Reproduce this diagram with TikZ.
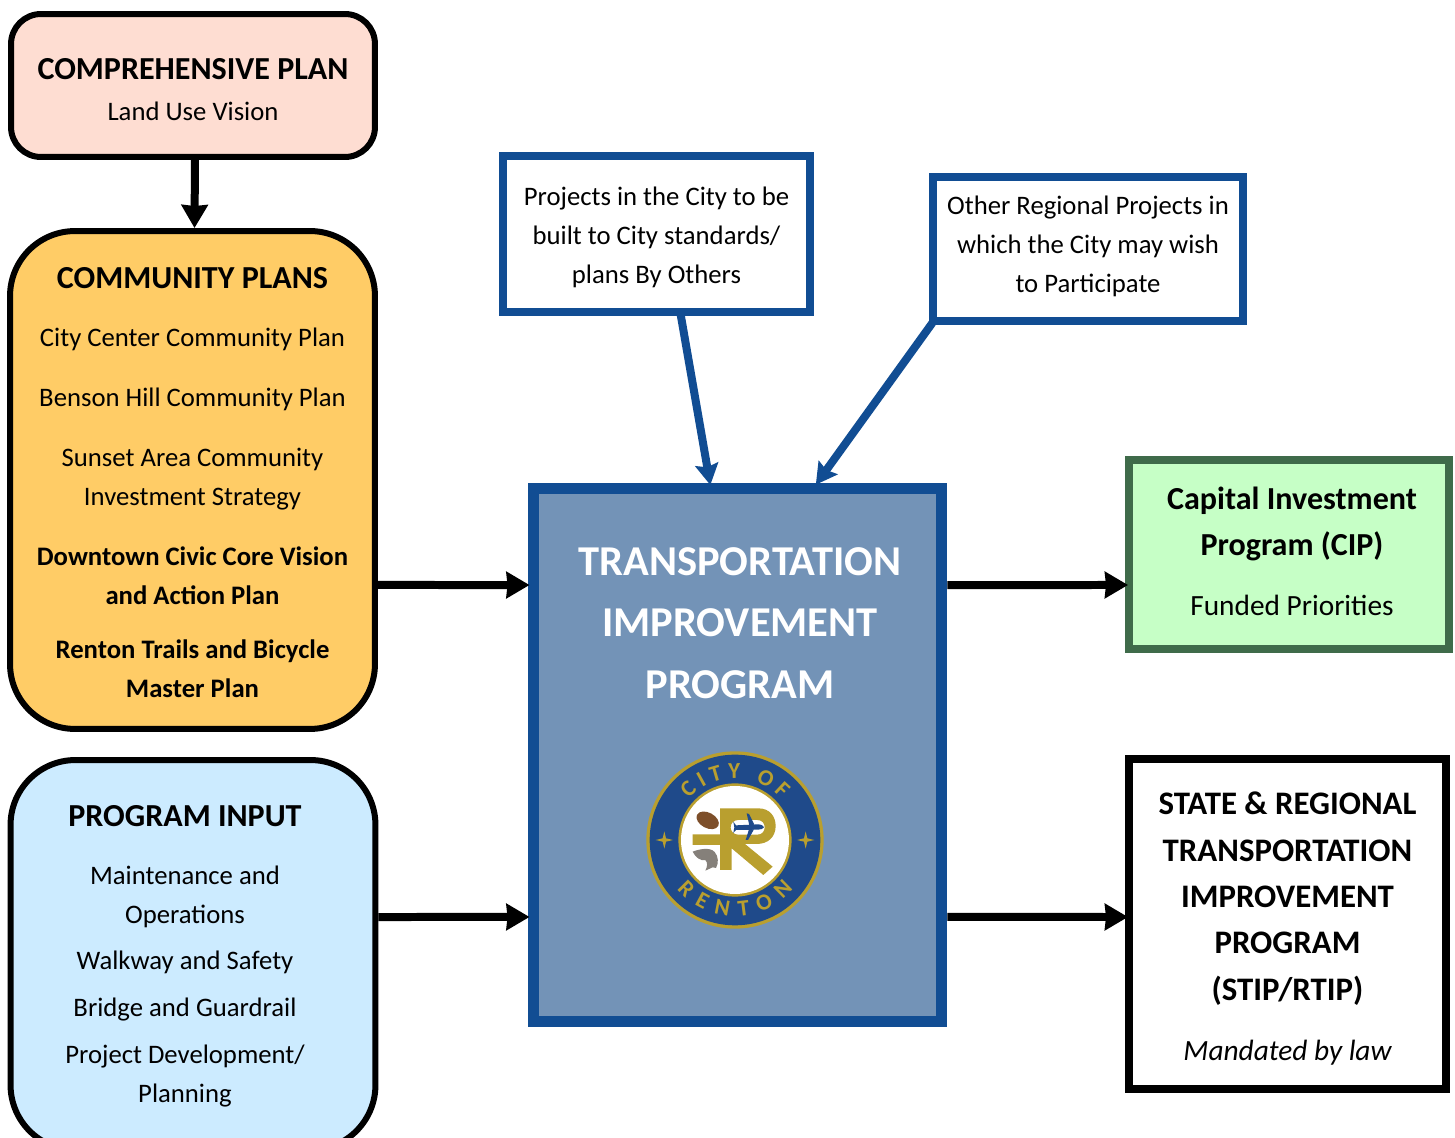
\documentclass[tikz,border=0pt]{standalone}
\usepackage{fontspec}
\setmainfont{Carlito}
\usepackage{tikz}
\usetikzlibrary{arrows.meta}
\usetikzlibrary{decorations.text}
\definecolor{planblue}{HTML}{114D93}
\definecolor{planfill}{HTML}{7393B7}
\definecolor{compfill}{HTML}{FEDDD2}
\definecolor{commfill}{HTML}{FFCC66}
\definecolor{inputfill}{HTML}{CCEBFF}
\definecolor{cipfill}{HTML}{C6FFC6}
\definecolor{cipgreen}{HTML}{3F6B4A}
\definecolor{logoblue}{HTML}{1F4A8A}
\definecolor{logogold}{HTML}{B99F2F}
\definecolor{ballbrown}{HTML}{7D4F2A}
\definecolor{fishgray}{HTML}{85807A}
\newcommand{\bodyfont}{\fontsize{15.2}{22.1}\selectfont}
\newcommand{\subfont}{\fontsize{16.7}{22.1}\selectfont}
\newcommand{\headfont}{\fontsize{18.25}{22.1}\selectfont\bfseries}
\newcommand{\statefont}{\fontsize{18.7}{22.1}\selectfont\bfseries}
\newcommand{\bighead}{\fontsize{24.2}{35}\selectfont\bfseries}
\newcommand{\logofont}{\fontsize{13}{13}\selectfont\bfseries}

\begin{document}
\begin{tikzpicture}[
        x=0.02cm,y=-0.02cm,
        roundbox/.style={draw=black,line width=0.12cm,rounded corners=#1},
        roundbox/.default=1.3cm,
        squarebox/.style={line width=0.16cm},
        words/.style={align=center,font=\bodyfont,inner sep=0pt},
        arrowblack/.style={-{Stealth[length=0.46cm,width=0.52cm,inset=0.02cm]},line width=0.16cm},
        arrowblue/.style={-{Stealth[length=0.42cm,width=0.46cm,inset=0.06cm]},line width=0.16cm,draw=planblue},
        logogrid/.style={shift={(630,740)},x=0.00667cm,y=-0.00667cm},
    ]
    \path[use as bounding box,clip] (0,0) rectangle (1455,1138);
    % left column
    \node[roundbox=0.6cm,fill=compfill,minimum width=7.28cm,minimum height=2.86cm,words] (comp) at (193,85.5)
        {\rule{0pt}{16.4pt}{\headfont COMPREHENSIVE PLAN}\\[1.2pt]Land Use Vision};
    \node[roundbox,fill=commfill,minimum width=7.3cm,minimum height=9.96cm,words] (comm) at (192.5,480)
        {\rule{0pt}{15pt}{\headfont COMMUNITY PLANS}\\[11pt]City Center Community Plan\\[12pt]Benson Hill Community Plan\\[12pt]Sunset Area Community\\Investment Strategy\\[12pt]\textbf{Downtown Civic Core Vision}\\\textbf{and Action Plan}\\[9pt]\textbf{Renton Trails and Bicycle}\\\textbf{Master Plan}};
    \node[roundbox,fill=inputfill,minimum width=7.3cm,minimum height=7.8cm] (input) at (193,955) {};
    \node[words] (inputtext) at (185,956)
        {{\headfont PROGRAM INPUT}\\[11pt]Maintenance and\\Operations\\[4.5pt]Walkway and Safety\\[4.5pt]Bridge and Guardrail\\[4.5pt]Project Development/\\Planning};
    % middle
    \node[squarebox,draw=planblue,fill=white,minimum width=6.16cm,minimum height=3.14cm,words] (proj) at (656.5,234)
        {\rule{0pt}{14.5pt}Projects in the City to be\\built to City standards/\\plans By Others};
    \node[squarebox,draw=planblue,fill=white,minimum width=6.22cm,minimum height=2.9cm,words] (other) at (1088,249)
        {Other Regional Projects in\\which the City may wish\\to Participate\rule[-5.7pt]{0pt}{0pt}};
    \node[draw=planblue,line width=0.22cm,fill=planfill,minimum width=8.18cm,minimum height=10.66cm] (plan) at (737.5,755) {};
    \node[align=center,font=\bighead,text=white,inner sep=0pt] (plantext) at (740,623)
        {TRANSPORTATION\\IMPROVEMENT\\PROGRAM};
    % right column
    \node[draw=cipgreen,line width=0.16cm,fill=cipfill,minimum width=6.4cm,minimum height=3.78cm] (cip) at (1289,554.5) {};
    \node[words] (ciptext) at (1292,551)
        {{\headfont Capital Investment}\\[4pt]{\headfont Program (CIP)}\\[12pt]{\subfont Funded Priorities}};
    \node[draw=black,line width=0.16cm,fill=white,minimum width=6.34cm,minimum height=6.6cm,words] (state) at (1287.5,924)
        {\rule{0pt}{18.1pt}{\statefont STATE \& REGIONAL}\\[4.3pt]{\statefont TRANSPORTATION}\\[4.3pt]{\statefont IMPROVEMENT}\\[4.3pt]{\statefont PROGRAM}\\[4.3pt]{\statefont (STIP/RTIP)}\\[12pt]{\subfont\itshape Mandated by law}};
    % arrows
    \draw[arrowblack] ([xshift=0.04cm]comp.south) -- ([xshift=0.04cm]comm.north);
    \draw[arrowblack,shorten >=-0.04cm] ([yshift=-2.1cm]comm.east) -- ([yshift=3.4cm]plan.west);
    \draw[arrowblack,shorten >=-0.04cm] ([yshift=0.76cm]input.east) -- ([yshift=-3.24cm]plan.west);
    \draw[arrowblack,shorten >=-0.06cm] ([yshift=3.4cm]plan.east) -- ([yshift=-0.61cm]cip.west);
    \draw[arrowblack,shorten >=-0.06cm] ([yshift=-3.24cm]plan.east) -- ([yshift=0.14cm]state.west);
    \draw[arrowblue,shorten <=-0.06cm,shorten >=-0.04cm] ([xshift=0.49cm]proj.south) -- ([xshift=-0.55cm]plan.north);
    \draw[arrowblue,shorten <=-0.06cm,shorten >=-0.04cm] ([xshift=0.04cm]other.south west) -- ([xshift=1.59cm]plan.north);
    % city seal, drawn on a finer grid
    \begin{scope}[logogrid]
        \fill[logogold] (315,300) circle (266);
        \fill[logoblue] (315,300) circle (256);
        \fill[logogold] (315,300) circle (170);
        \fill[white] (315,300) circle (162);
        \foreach \sx in {103,527}
            \fill[logogold,shift={(\sx,300)}] (0,-26) -- (5,-5) -- (26,0) -- (5,5) -- (0,26) -- (-5,5) -- (-26,0) -- (-5,-5) -- cycle;
        \path[decorate,decoration={text along path,text color=logogold,text align={fit to path},
            text={|\logofont|CITY OF}}] (315,300) ++(-138:186) arc (-138:-42:186);
        \path[decorate,decoration={text along path,text color=logogold,text align={fit to path},
            text={|\logofont|RENTON}}] (315,300) ++(140:228) arc (140:40:228);
        % the letter
        \fill[logogold,even odd rule] (270,205) -- (385,205) .. controls (420,205) and (437,230) .. (437,258)
            .. controls (437,290) and (415,312) .. (380,312) -- (345,312) -- (428,380) -- (400,405) -- (305,325)
            -- (305,390) -- (270,390) -- (270,315) -- (188,315) -- (188,283) -- (270,283) -- cycle
            (325,240) -- (382,240) .. controls (396,240) and (404,250) .. (404,262)
            .. controls (404,274) and (396,284) .. (382,284) -- (325,284)
            .. controls (311,284) and (302,274) .. (302,262) .. controls (302,250) and (311,240) .. (325,240) -- cycle;
        % plane
        \fill[logoblue] (310,245) -- (318,256) -- (385,253) .. controls (395,254) and (402,258) .. (402,262)
            .. controls (400,266) and (392,269) .. (385,269) -- (318,270) -- (310,279) -- (313,262) -- cycle;
        \fill[logoblue] (350,220) -- (357,222) -- (373,254) -- (358,256) -- cycle;
        \fill[logoblue] (347,300) -- (354,300) -- (372,268) -- (357,268) -- cycle;
        % football
        \fill[ballbrown,rotate around={-28:(233,241)}] (233,241) ellipse (36 and 23);
        % fish
        \fill[fishgray] (188,335) .. controls (205,328) and (240,320) .. (254,336)
            .. controls (266,350) and (266,370) .. (258,384) -- (248,382) -- (226,392)
            .. controls (232,380) and (234,368) .. (226,360) .. controls (212,364) and (196,352) .. (188,335) -- cycle;
    \end{scope}
\end{tikzpicture}
\end{document}
